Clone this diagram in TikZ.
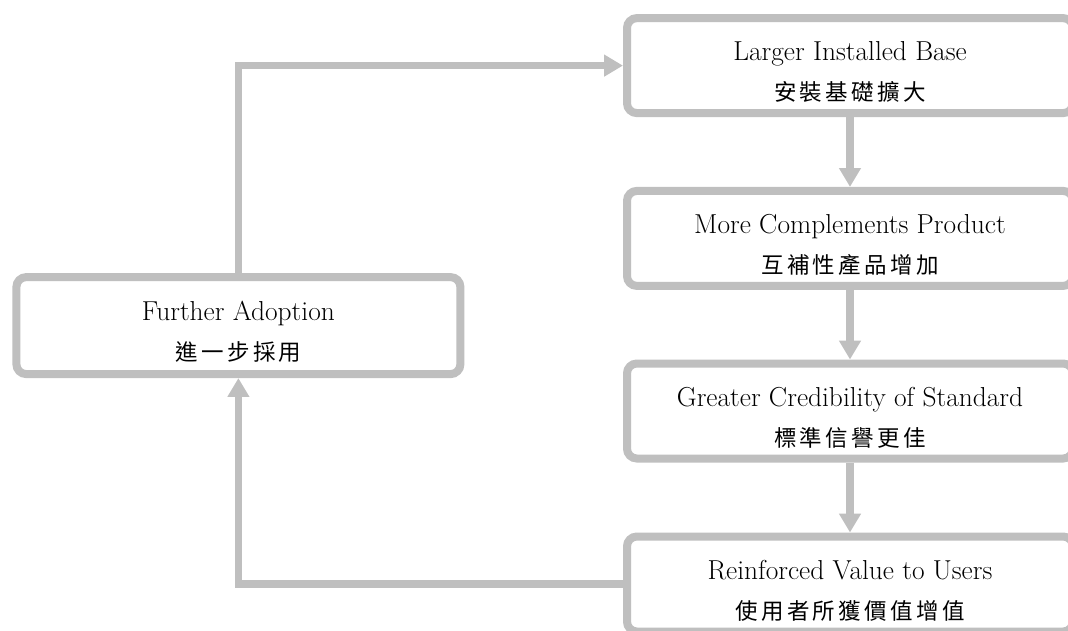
\documentclass[tikz,border=0pt]{standalone}
\usepackage{fontspec}
\newfontfamily\cjk[LetterSpace=15]{Noto Sans CJK TC}
\usepackage{tikz}
\usetikzlibrary{arrows.meta,positioning,calc}
\definecolor{ink}{HTML}{000000}
\definecolor{frame}{HTML}{BFBFBF}
\newcommand{\zh}[1]{{\cjk\fontsize{16}{28.5}\selectfont #1}}
\newcommand{\lift}{\rule{0pt}{23pt}}
\tikzset{
  card/.style={rounded corners=7pt, align=center, inner sep=4pt, draw=frame, fill=white,
    line width=5.7pt, text=ink, minimum width=11.15cm, minimum height=2.375cm,
    font=\fontsize{19.5}{28.5}\selectfont},
  arr/.style={-{Triangle[length=0.47cm,width=0.52cm]}, line width=5pt, draw=frame},
}

\begin{document}
\begin{tikzpicture}
    \useasboundingbox (0,0) rectangle (26.7,-15.75);
    \node[card] (base) at (21.25,-1.64) {\lift Larger Installed Base\\\zh{安裝基礎擴大}};
    \node[card] (comp) at (21.25,-5.96) {\lift More Complements Product\\\zh{互補性產品增加}};
    \node[card] (cred) at (21.25,-10.275) {\lift Greater Credibility of Standard\\\zh{標準信譽更佳}};
    \node[card] (value) at (21.25,-14.6) {\lift Reinforced Value to Users\\\zh{使用者所獲價值增值}};
    \node[card, minimum width=11.1cm, minimum height=2.425cm] (further) at (5.96,-8.14)
      {\lift Further Adoption\\\zh{進一步採用}};
    \foreach \a/\b in {base/comp,comp/cred,cred/value} \draw[arr] (\a) -- (\b);
    \draw[arr] (further) |- (base);
    \draw[arr] (value) -| (further);
  \end{tikzpicture}
\end{document}
